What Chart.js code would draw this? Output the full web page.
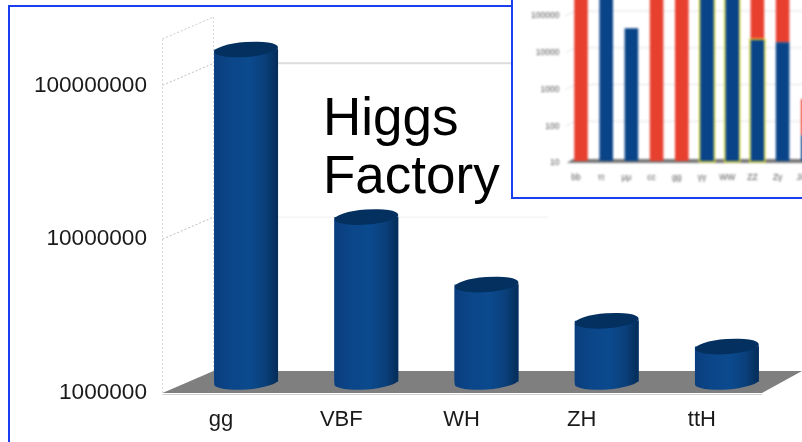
<!DOCTYPE html>
<html>
<head>
<meta charset="utf-8">
<title>Higgs Factory</title>
<script src="https://cdn.jsdelivr.net/npm/chart.js@4"></script>
<style>
    html, body { margin: 0; padding: 0; background: #fff; }
    body { position: relative; width: 802px; height: 442px; overflow: hidden; }
    #kader { position: absolute; left: 8px; top: 5px; width: 840px; height: 480px; border: 2px solid #1a3ff0; }
    #hoofd { position: absolute; left: 0; top: 0; }
    #titel { position: absolute; left: 323px; top: 88px; font: 53px/58px "Liberation Sans", sans-serif; color: #000; }
    #inzet { position: absolute; left: 511px; top: -4px; width: 340px; height: 201px; background: #fff;
             border-left: 2px solid #1a3ff0; border-bottom: 2px solid #1a3ff0; overflow: hidden; }
    #klein { position: absolute; left: 0; top: -16px; filter: blur(0.8px); }
</style>
</head>
<body>
<div id="kader"></div>
<canvas id="hoofd" width="802" height="442"></canvas>
<div id="titel">Higgs<br>Factory</div>
<div id="inzet"><canvas id="klein" width="340" height="216"></canvas></div>

<script>
// Hoofdgrafiek: productiekanalen
const kanalen = ['gg', 'VBF', 'WH', 'ZH', 'ttH'];
const kanaalWaarden = [145000000, 11800000, 4300000, 2500000, 1700000];
const hoofdTicks = [1000000, 10000000, 100000000];

// Inzet: vervalkanalen (balken die boven de rand uitsteken zijn geschat)
const vervallen = ['bb', 'ττ', 'μμ', 'cc', 'gg', 'γγ', 'WW', 'ZZ', 'Zγ', 'J/ψ'];
const blauwWaarden = [null, 600000, 41000, null, null, 600000, 600000, 19600, 17000, 50];
const roodWaarden = [700000, null, null, 600000, 600000, null, null, 600000, 600000, 440];
const gemarkeerd = ['γγ', 'WW', 'ZZ'];
const kleinTicks = [10, 100, 1000, 10000, 100000];

// Schuine "3D" vloer, balken staan midden op de vloer
function tekenVloer(chart, diepte, kleur, inspring) {
    const { ctx, chartArea: a } = chart;
    ctx.save();
    ctx.fillStyle = kleur;
    ctx.beginPath();
    ctx.moveTo(a.left + inspring, a.bottom);
    ctx.lineTo(a.right, a.bottom);
    ctx.lineTo(a.right + diepte.rechts, a.bottom + diepte.y);
    ctx.lineTo(a.left + inspring + diepte.x, a.bottom + diepte.y);
    ctx.closePath();
    ctx.fill();
    ctx.restore();
}

const hoofdAchtergrond = {
    id: 'hoofdAchtergrond',
    beforeDatasetsDraw(chart) {
        const { ctx, chartArea: a, scales: { y } } = chart;
        const d = { x: 51, y: -22, rechts: 40 };
        const links = a.left + 1.5;

        ctx.save();
        // verticale stippellijnen van de zijwand
        ctx.strokeStyle = '#dcdcdc';
        ctx.setLineDash([2, 2]);
        ctx.lineWidth = 1;
        ctx.beginPath();
        ctx.moveTo(links, a.top);
        ctx.lineTo(links, a.bottom);
        ctx.moveTo(links + d.x, a.top + d.y);
        ctx.lineTo(links + d.x, a.bottom + d.y);
        ctx.stroke();

        // bovenrand en rasterlijnen
        ctx.strokeStyle = '#c8c8c8';
        ctx.beginPath();
        ctx.moveTo(links, a.top);
        ctx.lineTo(links + d.x, a.top + d.y);
        ctx.stroke();
        hoofdTicks.slice(1).forEach((t, i) => {
            const py = y.getPixelForValue(t);
            ctx.setLineDash([2, 2]);
            ctx.strokeStyle = '#bdbdbd';
            ctx.lineWidth = 1;
            ctx.beginPath();
            ctx.moveTo(links, py);
            ctx.lineTo(links + d.x, py + d.y);
            ctx.stroke();
            ctx.setLineDash([]);
            ctx.strokeStyle = i === 0 ? '#efefef' : '#dddddd';
            ctx.lineWidth = i === 0 ? 1 : 2;
            ctx.beginPath();
            ctx.moveTo(links + d.x, py + d.y);
            ctx.lineTo(548, py + d.y);
            ctx.stroke();
        });

        // lichte schaduwlijn onder de vloer
        ctx.setLineDash([]);
        ctx.strokeStyle = '#d0d0d0';
        ctx.lineWidth = 1;
        ctx.beginPath();
        ctx.moveTo(links, a.bottom + 1.5);
        ctx.lineTo(a.right, a.bottom + 1.5);
        ctx.stroke();
        ctx.restore();

        tekenVloer(chart, d, '#7f7f7f', 1.5);
    }
};

// Cilinders: de bar van Chart.js wordt opgeschoven en krijgt een ronde onder- en bovenkant
const cilinders = {
    id: 'cilinders',
    beforeDatasetDraw(chart) {
        chart.ctx.save();
        chart.ctx.translate(25, -11);
    },
    afterDatasetDraw(chart, args) {
        const ctx = chart.ctx;
        const kantel = -0.075;
        const ry = 7.5;
        args.meta.data.forEach(bar => {
            const links = bar.x - bar.width / 2;
            const rechts = bar.x + bar.width / 2;
            const rx = bar.width / 2;

            const verloop = ctx.createLinearGradient(links, 0, rechts, 0);
            verloop.addColorStop(0, '#0a3e7e');
            verloop.addColorStop(0.25, '#0b4688');
            verloop.addColorStop(0.55, '#0b4a8e');
            verloop.addColorStop(0.8, '#0a3f7a');
            verloop.addColorStop(1, '#042c57');

            ctx.fillStyle = verloop;
            ctx.beginPath();
            ctx.ellipse(bar.x, bar.base, rx, ry, kantel, 0, Math.PI);
            ctx.ellipse(bar.x, bar.y, rx, ry, kantel, Math.PI, 0, true);
            ctx.closePath();
            ctx.fill();

            ctx.fillStyle = '#03305f';
            ctx.beginPath();
            ctx.ellipse(bar.x, bar.y, rx, ry, kantel, 0, Math.PI * 2);
            ctx.fill();
        });
        ctx.restore();
    }
};

new Chart(document.getElementById('hoofd'), {
    type: 'bar',
    data: {
        labels: kanalen,
        datasets: [{
            data: kanaalWaarden,
            backgroundColor: '#0b4688',
            borderWidth: 0,
            barPercentage: 0.532,
            categoryPercentage: 1
        }]
    },
    options: {
        responsive: false,
        animation: false,
        layout: { padding: { left: 0, top: 39, right: 40, bottom: 0 } },
        plugins: { legend: { display: false }, tooltip: { enabled: false } },
        scales: {
            x: {
                grid: { display: false },
                border: { display: false },
                afterFit: axis => { axis.height = 49; },
                ticks: {
                    padding: 6,
                    color: '#1a1a1a',
                    maxRotation: 0,
                    font: { family: 'Liberation Sans', size: 22 }
                }
            },
            y: {
                type: 'logarithmic',
                min: 1000000,
                max: 200000000,
                grid: { display: false, drawTicks: false },
                border: { display: false },
                afterFit: axis => { axis.width = 161; },
                afterBuildTicks: axis => { axis.ticks = hoofdTicks.map(v => ({ value: v })); },
                ticks: {
                    padding: 14,
                    color: '#1a1a1a',
                    autoSkip: false,
                    callback: v => String(v),
                    font: { family: 'Liberation Sans', size: 22.6 }
                }
            }
        }
    },
    plugins: [hoofdAchtergrond, cilinders]
});

// De kleine grafiek rechtsboven
const kleinAchtergrond = {
    id: 'kleinAchtergrond',
    beforeDatasetsDraw(chart) {
        const { ctx, chartArea: a, scales: { y } } = chart;
        const d = { x: 10, y: -5 };
        ctx.save();
        ctx.lineWidth = 1;
        kleinTicks.slice(1).forEach(t => {
            const py = y.getPixelForValue(t);
            ctx.strokeStyle = '#e4e4ea';
            ctx.beginPath();
            ctx.moveTo(a.left + 2, py);
            ctx.lineTo(a.left + 2 + d.x, py + d.y);
            ctx.lineTo(a.right + d.x, py + d.y);
            ctx.stroke();
        });
        ctx.restore();
        tekenVloer(chart, { x: 6, y: -4, rechts: 6 }, '#7a7a7a', 3.5);
    }
};

const kleineBalken = {
    id: 'kleineBalken',
    beforeDatasetDraw(chart) {
        chart.ctx.save();
        chart.ctx.translate(5, -2);
    },
    afterDatasetDraw(chart, args) {
        const ctx = chart.ctx;
        // alleen de blauwe reeks krijgt een gele rand
        if (args.index === 0) {
            ctx.strokeStyle = '#d8d82e';
            ctx.lineWidth = 1.3;
            args.meta.data.forEach((bar, i) => {
                if (!gemarkeerd.includes(vervallen[i])) return;
                ctx.strokeRect(bar.x - bar.width / 2 - 0.8, bar.y - 0.8, bar.width + 1.6, bar.base - bar.y + 1.6);
            });
        }
        ctx.restore();
    }
};

new Chart(document.getElementById('klein'), {
    type: 'bar',
    data: {
        labels: vervallen,
        datasets: [
            { data: blauwWaarden, backgroundColor: '#0a4488', borderWidth: 0, stack: 'a', barPercentage: 0.54, categoryPercentage: 1 },
            { data: roodWaarden, backgroundColor: '#e8402f', borderWidth: 0, stack: 'a', barPercentage: 0.54, categoryPercentage: 1 }
        ]
    },
    options: {
        responsive: false,
        animation: false,
        layout: { padding: { left: 0, top: 10, right: 37.6, bottom: 0 } },
        plugins: { legend: { display: false }, tooltip: { enabled: false } },
        scales: {
            x: {
                stacked: true,
                grid: { display: false },
                border: { display: false },
                afterFit: axis => { axis.height = 33; },
                ticks: {
                    padding: 2,
                    color: '#555',
                    maxRotation: 0,
                    autoSkip: false,
                    font: { family: 'Liberation Sans', size: 8.5 }
                }
            },
            y: {
                type: 'logarithmic',
                stacked: true,
                min: 10,
                max: 510000,
                grid: { display: false, drawTicks: false },
                border: { display: false },
                afterFit: axis => { axis.width = 50.4; },
                afterBuildTicks: axis => { axis.ticks = kleinTicks.map(v => ({ value: v })); },
                ticks: {
                    padding: 4,
                    color: '#555',
                    autoSkip: false,
                    callback: v => String(v),
                    font: { family: 'Liberation Sans', size: 8.5 }
                }
            }
        }
    },
    plugins: [kleinAchtergrond, kleineBalken]
});
</script>
</body>
</html>
